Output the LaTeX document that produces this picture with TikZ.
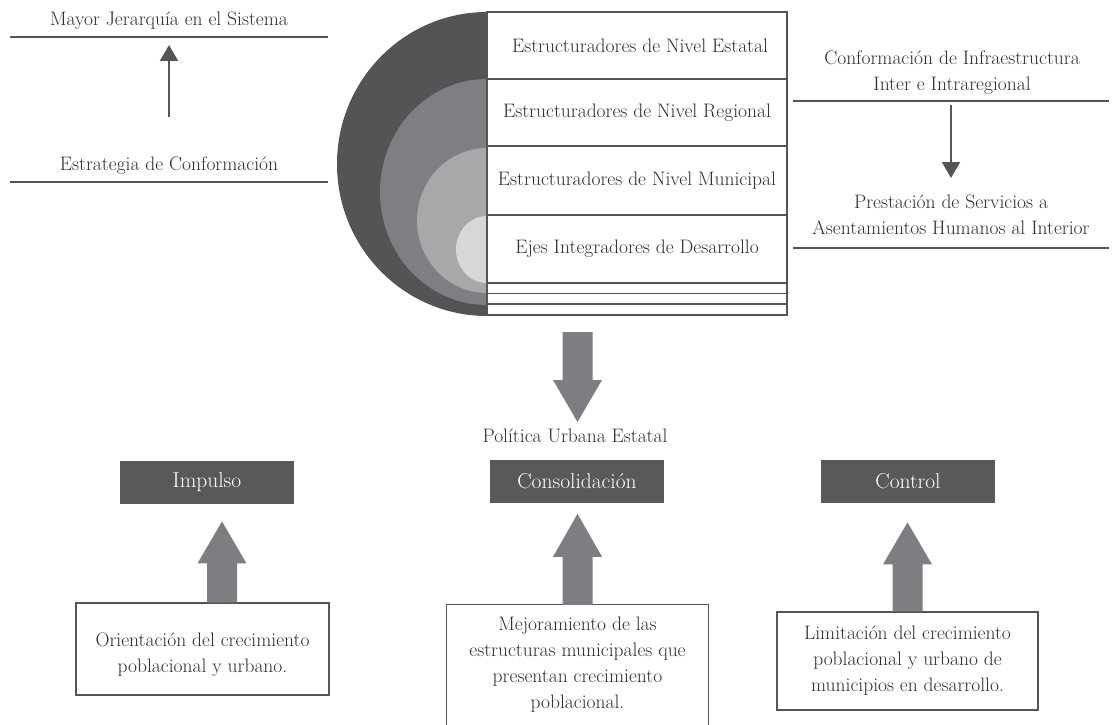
\documentclass[tikz,border=0pt]{standalone}
\usepackage{fontspec}
\setmainfont{Latin Modern Roman}
\usetikzlibrary{arrows.meta,calc}
\definecolor{dkfill}{HTML}{58595B}
\definecolor{outerg}{HTML}{545457}
\definecolor{midg}{HTML}{7E7F82}
\definecolor{lightg}{HTML}{A7A8AA}
\definecolor{palest}{HTML}{D7D7D8}
\definecolor{blockg}{HTML}{7D7E81}
\definecolor{linec}{HTML}{555555}
\definecolor{txtc}{HTML}{2E2E2E}
\tikzset{
  basefont/.style={font=\fontsize{19.5}{26}\selectfont},
  txt/.style={basefont, text=txtc, align=center, inner sep=0pt},
  rule/.style={draw=linec, line width=1.8pt},
  thinarr/.style={draw=linec, line width=2pt, -{Triangle[width=18pt,length=16pt]}},
  levelbox/.style={draw=linec, line width=1.2pt, fill=white},
  darkbox/.style={fill=dkfill, text=white, font=\fontsize{21.5}{26}\selectfont, minimum width=174pt, minimum height=43pt, inner sep=0pt},
  textbox/.style={draw=linec, line width=1.2pt, txt},
  blk/.style={fill=blockg}
}
\begin{document}
\begin{tikzpicture}[x=1pt,y=-1pt]
\useasboundingbox (0,0) rectangle (1114,725);

% ---- central nested shape ----
\fill[outerg] (487,164) ellipse[x radius=150, y radius=152];
\fill[midg] (487,192) ellipse[x radius=107, y radius=113];
\fill[lightg] (487,220.5) ellipse[x radius=70, y radius=72.5];
\fill[palest] (487,249.5) ellipse[x radius=31, y radius=33.5];

\path[levelbox] (487,12) rectangle (787,79);
\path[levelbox] (487,79) rectangle (787,146);
\path[levelbox] (487,146) rectangle (787,215);
\path[levelbox] (487,215) rectangle (787,283);
\path[levelbox] (487,283) rectangle (787,293.5);
\path[levelbox] (487,293.5) rectangle (787,304);
\path[levelbox] (487,304) rectangle (787,315);

\node[txt] (est) at (640,45.5) {Estructuradores de Nivel Estatal};
\node[txt] (reg) at (637,112.5) {Estructuradores de Nivel Regional};
\node[txt] (mun) at (637,180.5) {Estructuradores de Nivel Municipal};
\node[txt] (eje) at (637,249) {Ejes Integradores de Desarrollo};

% ---- left side ----
\node[txt] (mayor) at (169,21) {Mayor Jerarquía en el Sistema};
\draw[rule] (10,37) -- (328,37);
\node[txt] (estrat) at (169,166) {Estrategia de Conformación};
\draw[rule] (10,182) -- (328,182);
\coordinate (la1) at (169,117);
\coordinate (la2) at (169,45);
\draw[thinarr] (la1) -- (la2);

% ---- right side ----
\node[txt] (conf) at (952,73) {Conformación de Infraestructura\\Inter e Intraregional};
\draw[rule] (793,101) -- (1109,101);
\node[txt] (prest) at (951,215) {Prestación de Servicios a\\Asentamientos Humanos al Interior};
\draw[rule] (793,248) -- (1109,248);
\coordinate (ra1) at (951,105);
\coordinate (ra2) at (951,178);
\draw[thinarr] (ra1) -- (ra2);

% ---- big down arrow ----
\coordinate (dtop) at (577.5,332);
\fill[blk] (dtop) ++(-15,0) -- ++(0,48) -- ++(-9.5,0) -- ++(24.5,42) -- ++(24.5,-42) -- ++(-9.5,0) -- ++(0,-48) -- cycle;
\node[txt] (pol) at (575,436) {Política Urbana Estatal};

% ---- dark boxes ----
\node[darkbox] (imp) at (207,482.5) {Impulso};
\node[darkbox] (cons) at (577,481.5) {Consolidación};
\node[darkbox] (ctrl) at (908,481.5) {Control};

% ---- bottom boxes ----
\node[draw=linec, line width=1.2pt, minimum width=253pt, minimum height=92pt] (ori) at (202.5,649) {};
\node[txt] (oritxt) at (202.5,655) {Orientación del crecimiento\\poblacional y urbano.};
\node[txt, minimum width=261pt, minimum height=120pt] (mej) at (577.5,665) {Mejoramiento de las\\estructuras municipales que\\presentan crecimiento\\poblacional.};
\draw[draw=linec, line width=1.2pt] (mej.south west) -- (mej.north west) -- (mej.north east) -- (mej.south east);
\node[textbox, minimum width=261pt, minimum height=98pt] (lim) at (907.5,661) {Limitación del crecimiento\\poblacional y urbano de\\municipios en desarrollo.};

% ---- up block arrows ----
\fill[blk] (ori.north) ++(4.5,0) -- ++(0,-39) -- ++(-9.5,0) -- ++(24.5,-42) -- ++(24.5,42) -- ++(-9.5,0) -- ++(0,39) -- cycle;
\fill[blk] (mej.north) ++(-15,0) -- ++(0,-48) -- ++(-9.5,0) -- ++(24.5,-43) -- ++(24.5,43) -- ++(-9.5,0) -- ++(0,48) -- cycle;
\fill[blk] (lim.north) ++(-15,0) -- ++(0,-47) -- ++(-9.5,0) -- ++(24.5,-42) -- ++(24.5,42) -- ++(-9.5,0) -- ++(0,47) -- cycle;
\end{tikzpicture}
\end{document}
